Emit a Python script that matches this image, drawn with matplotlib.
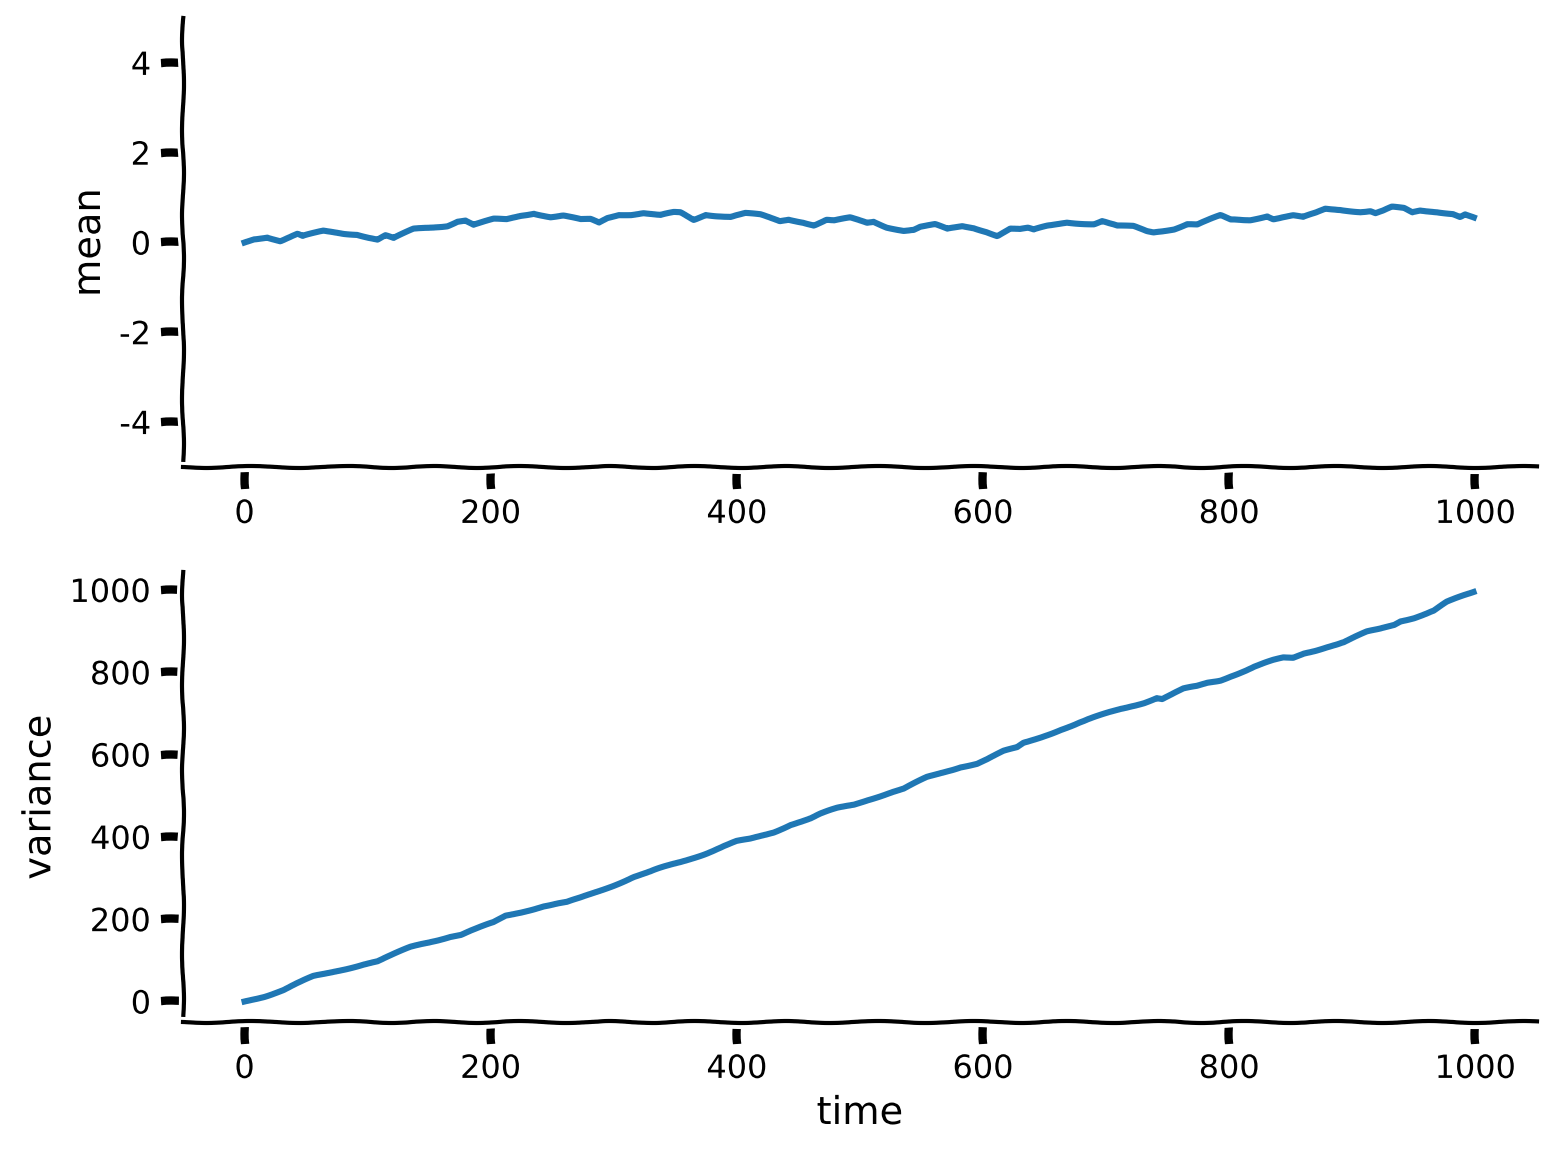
import matplotlib
matplotlib.use("Agg")
import matplotlib.pyplot as plt

# values (time, mean) and (time, variance)
mean_t = [0, 7.6, 18.4, 29, 43, 47, 64, 81, 91.5, 108, 114.5, 121, 137.5, 151, 164.6,
          172.8, 179.5, 186, 202.5, 213, 224, 235, 248.6, 259, 273, 281, 288, 294.6,
          304, 314, 324, 338, 348.7, 354, 365, 374.5, 394.8, 407, 419, 435, 442, 454,
          462.5, 473, 479, 492, 505.8, 511, 522, 535.6, 543.6, 549, 561, 570.8, 583,
          592.5, 603, 611.5, 622, 630, 636.5, 641, 652, 668, 690, 696.7, 709, 722,
          733, 738.6, 755, 765.8, 774, 784.7, 792.9, 801, 817, 830.8, 836, 852, 860,
          871, 878, 890, 906.6, 914.7, 918.8, 925, 932.3, 941.8, 948.6, 955, 969,
          982, 987.6, 991.6, 998.6]
mean_v = [0.0, 0.08, 0.13, 0.04, 0.18, 0.13, 0.25, 0.2, 0.19, 0.07, 0.16, 0.09, 0.29,
          0.33, 0.38, 0.48, 0.50, 0.39, 0.51, 0.51, 0.60, 0.66, 0.57, 0.59, 0.50, 0.51,
          0.44, 0.55, 0.63, 0.63, 0.66, 0.60, 0.66, 0.66, 0.51, 0.63, 0.57, 0.64, 0.61,
          0.48, 0.52, 0.46, 0.39, 0.50, 0.48, 0.54, 0.44, 0.47, 0.35, 0.27, 0.28, 0.34,
          0.39, 0.29, 0.36, 0.33, 0.25, 0.16, 0.31, 0.29, 0.31, 0.27, 0.36, 0.45, 0.42,
          0.48, 0.36, 0.35, 0.25, 0.23, 0.31, 0.42, 0.40, 0.51, 0.59, 0.50, 0.51, 0.60,
          0.53, 0.59, 0.55, 0.66, 0.75, 0.74, 0.69, 0.70, 0.65, 0.70, 0.78, 0.75, 0.66,
          0.71, 0.69, 0.65, 0.58, 0.63, 0.55]

var_t = [0, 15.7, 32, 56, 70, 97, 108, 135, 151, 167, 175.5, 202.5, 212, 229.6, 243,
         262, 273, 294.6, 316, 330, 359.6, 376, 400, 411, 430, 443.5, 460, 468, 481.5,
         495, 506, 525, 535.6, 554.6, 565, 581.6, 595, 603, 617, 628, 633, 646.6, 663,
         687, 711.6, 730.6, 741, 745.5, 763, 774, 782, 793, 801, 820, 836, 844, 852,
         860.5, 871, 879.5, 893, 912, 923, 934, 939, 950, 966, 977, 990.5, 998.6]
var_v = [0, 13, 29, 60, 70, 92, 98, 131, 145, 159, 163, 191, 208, 222, 232, 240, 251,
         277, 303, 315, 345, 362, 388, 394, 412, 431, 444.5, 455, 469, 479, 491, 508,
         516, 544, 554, 571, 579, 589, 607.5, 616, 627, 641.6, 662, 686, 710, 727, 739,
         736, 759, 765, 773, 781, 791.5, 813, 828, 834, 834, 846, 855, 863, 873, 897,
         905, 916, 925, 933.5, 950, 970, 985, 994]

mean_ticks = [-4, -2, 0, 2, 4]
time_ticks = [0, 200, 400, 600, 800, 1000]

with plt.xkcd():
    plt.rcParams["font.family"] = ["DejaVu Sans"]
    fig = plt.figure(figsize=(7.775, 5.775), dpi=200)
    ax1 = fig.add_axes([0.1177, 0.5957, 0.8707, 0.3887])
    ax2 = fig.add_axes([0.1177, 0.1152, 0.8707, 0.3896])

    ax1.plot(mean_t, mean_v, color="#1f77b4", lw=2.2)
    ax1.set_ylim(-5, 5)
    ax1.set_yticks(mean_ticks)
    ax1.set_ylabel("mean", fontsize=13.8)

    ax2.plot(var_t, var_v, color="#1f77b4", lw=2.2)
    ax2.set_ylabel("variance", fontsize=13.8)
    ax2.set_xlabel("time", fontsize=13.8)

    for ax in (ax1, ax2):
        ax.set_xlim(-50, 1050)
        ax.set_xticks(time_ticks)
        ax.spines["top"].set_visible(False)
        ax.spines["right"].set_visible(False)
        ax.tick_params(labelsize=11.5)

    fig.savefig("out.png", dpi=200)
